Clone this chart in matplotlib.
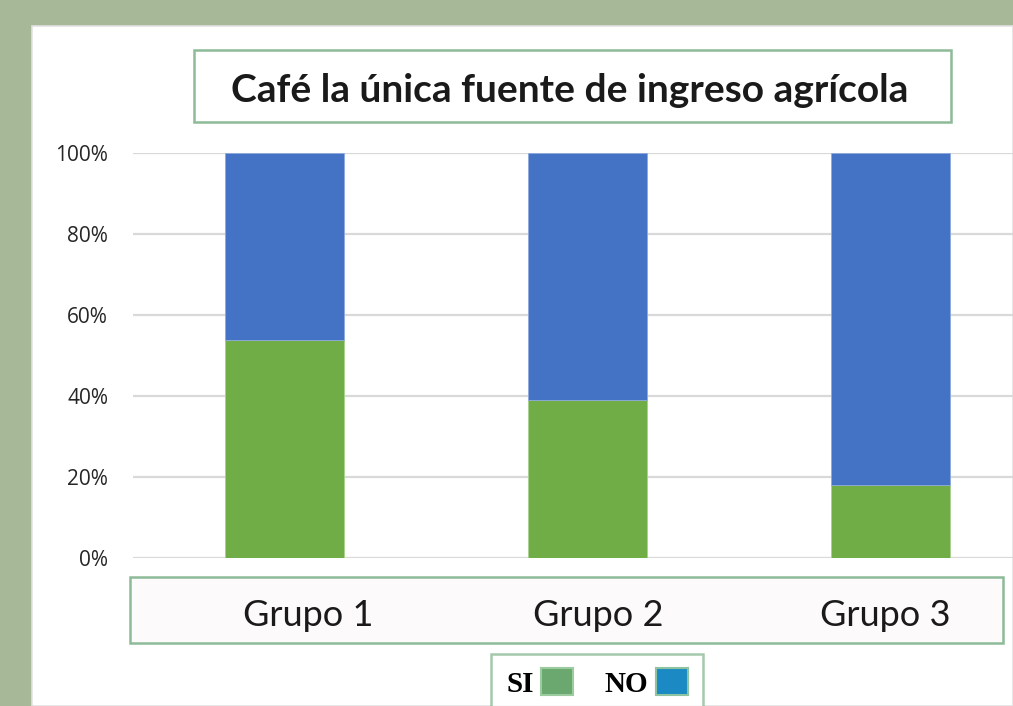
import matplotlib
matplotlib.use("Agg")
import matplotlib.pyplot as plt
import matplotlib.transforms as mtransforms
from matplotlib.patches import Rectangle, Patch
import numpy as np

categories = ["Grupo 1", "Grupo 2", "Grupo 3"]
si_values = [54, 39, 18]
no_values = [46, 61, 82]
yticks = [0, 20, 40, 60, 80, 100]
title = "Café la única fuente de ingreso agrícola"
legend_labels = ["SI", "NO"]

W, H = 1013, 706
fig = plt.figure(figsize=(W / 100, H / 100), dpi=100)
fig.patch.set_facecolor("#A7B898")

def fx(px):
    return px / W

def fy(py):
    return 1 - py / H

# white panel
fig.patches.append(Rectangle((fx(32), 0), 1 - fx(32), fy(26), transform=fig.transFigure,
                             facecolor="white", edgecolor="#E2E2E2", linewidth=1.2, zorder=-3))
# category box
fig.patches.append(Rectangle((fx(130), fy(643)), fx(1003) - fx(130), fy(577) - fy(643),
                             transform=fig.transFigure, facecolor="#FDFAFB",
                             edgecolor="#8DBB98", linewidth=1.8, zorder=-2))
# title box
fig.patches.append(Rectangle((fx(194), fy(122)), fx(951) - fx(194), fy(50) - fy(122),
                             transform=fig.transFigure, facecolor="white",
                             edgecolor="#8DBB98", linewidth=1.8, zorder=-2))

# axes: x from -0.5..2.5 with bars spaced 303 px
left_px, bottom_px, top_px = 133, 558.3, 153.3
unit = 303
ax = fig.add_axes([fx(left_px), fy(bottom_px), 3 * unit / W, (bottom_px - top_px) / H])
ax.set_zorder(2)
ax.set_facecolor("none")
x = np.arange(len(categories))
ax.bar(x, si_values, width=0.393, color="#70AD47", edgecolor="#A9D18E", linewidth=0.6, zorder=3)
ax.bar(x, no_values, bottom=si_values, width=0.393, color="#4472C4", edgecolor="#8FAADC",
       linewidth=0.6, zorder=3)
ax.set_xlim(-0.5, 2.5)
ax.set_ylim(0, 100)
for s in ax.spines.values():
    s.set_visible(False)
ax.set_yticks(yticks, [f"{v}%" for v in yticks])
ax.yaxis.grid(True, color="#D9D9D9", linewidth=1.6, zorder=0)
ax.set_axisbelow(True)
ax.tick_params(axis="y", length=0, pad=18, labelsize=15, labelcolor="#262626")
for lab in ax.get_yticklabels():
    lab.set_fontfamily("Open Sans")

ax.set_xticks(x, categories)
ax.tick_params(axis="x", length=0, pad=29, labelsize=26, labelcolor="#1A1A1A")
offsets_px = [24, 11, -5]
for lab, off in zip(ax.get_xticklabels(), offsets_px):
    lab.set_fontfamily("Lato")
    lab.set_transform(lab.get_transform() + mtransforms.ScaledTranslation(off / 100, 0, fig.dpi_scale_trans))

fig.text(fx(570), fy(90), title, ha="center", va="center", fontsize=28,
         fontweight="bold", fontfamily="Lato", color="#1A1A1A")

# legend
handles = [Patch(facecolor="#6AA870", edgecolor="#9CCB9F", linewidth=1.5),
           Patch(facecolor="#1B8AC4", edgecolor="#8DC3A0", linewidth=1.5)]
leg = fig.legend(handles, legend_labels, loc="center", bbox_to_anchor=(fx(597), fy(683)),
                 ncol=2, markerfirst=False, frameon=True, fancybox=False,
                 prop={"family": "Liberation Serif", "weight": "bold", "size": 21},
                 handlelength=1.1, handleheight=1.05, handletextpad=0.25, columnspacing=1.1,
                 borderpad=0.5, borderaxespad=0)
leg.get_frame().set_edgecolor("#8DBB98")
leg.get_frame().set_linewidth(1.8)
leg.get_frame().set_facecolor("white")

fig.savefig("out.png", dpi=100, facecolor=fig.get_facecolor())
